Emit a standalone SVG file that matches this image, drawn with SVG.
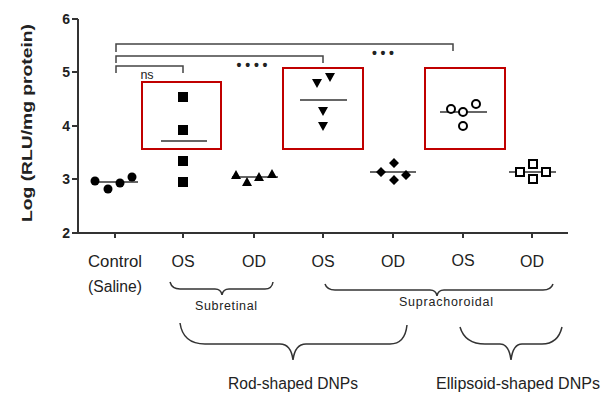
<svg xmlns="http://www.w3.org/2000/svg" width="616" height="394" viewBox="0 0 616 394">
<style>
.ax{stroke:#333;stroke-width:2;fill:none}
.ln{stroke:#444;stroke-width:1.5;fill:none}
.mean{stroke:#333;stroke-width:1.5}
.box{stroke:#c00000;stroke-width:2;fill:none}
.tl{font-family:"Liberation Sans",Arial,sans-serif;font-weight:bold;font-size:14px;fill:#222}
.xl{font-family:"Liberation Sans",Arial,sans-serif;font-size:16px;fill:#222}
.sm{font-family:"Liberation Sans",Arial,sans-serif;font-size:12.5px;fill:#222}
.br{stroke:#333;stroke-width:1.5;fill:none}
.f{fill:#000}
.o{fill:#fff;stroke:#000;stroke-width:2}
</style>
<rect width="616" height="394" fill="#fff"/>
<g id="axes">
<path class="ax" d="M78,19 V233 H568"/>
<path class="ax" d="M72,19 H78 M72,72 H78 M72,126 H78 M72,179 H78 M72,233 H78"/>
<path class="ax" d="M115,233 V238 M183,233 V238 M254,233 V238 M323,233 V238 M393,233 V238 M463,233 V238 M532,233 V238"/>
<text class="tl" x="70" y="24" text-anchor="end">6</text>
<text class="tl" x="70" y="77" text-anchor="end">5</text>
<text class="tl" x="70" y="131" text-anchor="end">4</text>
<text class="tl" x="70" y="184" text-anchor="end">3</text>
<text class="tl" x="70" y="238" text-anchor="end">2</text>
<text class="tl" transform="translate(32,123) rotate(-90)" text-anchor="middle" font-size="16" textLength="198" lengthAdjust="spacingAndGlyphs">Log (RLU/mg protein)</text>
</g>
<g id="xlabels">
<text class="xl" x="115" y="267" text-anchor="middle" textLength="54" lengthAdjust="spacingAndGlyphs">Control</text>
<text class="xl" x="115" y="292" text-anchor="middle" textLength="54" lengthAdjust="spacingAndGlyphs">(Saline)</text>
<text class="xl" x="183" y="267" text-anchor="middle">OS</text>
<text class="xl" x="254" y="267" text-anchor="middle">OD</text>
<text class="xl" x="323" y="267" text-anchor="middle">OS</text>
<text class="xl" x="393" y="267" text-anchor="middle">OD</text>
<text class="xl" x="463" y="266" text-anchor="middle">OS</text>
<text class="xl" x="532" y="267" text-anchor="middle">OD</text>
</g>
<g id="connectors">
<path class="ln" d="M116,52 V44 H453 V51"/>
<path class="ln" d="M116,63 V56 H323 V63"/>
<path class="ln" d="M116,73 V66 H183 V73"/>
</g>
<g id="sig">
<text class="sm" x="147" y="79" text-anchor="middle" font-size="12">ns</text>
<text class="tl" x="252" y="70" text-anchor="middle" font-size="17" textLength="31" lengthAdjust="spacing">••••</text>
<text class="tl" x="383" y="58" text-anchor="middle" font-size="17" textLength="22" lengthAdjust="spacing">•••</text>
</g>
<g id="boxes">
<rect class="box" x="142" y="82" width="79" height="67"/>
<rect class="box" x="283" y="68" width="80" height="81"/>
<rect class="box" x="425" y="68" width="80" height="81"/>
</g>
<g id="control">
<line class="mean" x1="91" y1="182" x2="138" y2="182"/>
<circle class="f" cx="95" cy="181" r="4.5"/>
<circle class="f" cx="108" cy="189" r="4.5"/>
<circle class="f" cx="120" cy="183" r="4.5"/>
<circle class="f" cx="132" cy="177" r="4.5"/>
</g>
<g id="rod-os">
<line class="mean" x1="161" y1="141" x2="207" y2="141"/>
<rect class="f" x="178" y="92" width="10" height="10"/>
<rect class="f" x="178" y="125" width="10" height="10"/>
<rect class="f" x="178" y="156" width="10" height="10"/>
<rect class="f" x="178" y="177" width="10" height="10"/>
</g>
<g id="rod-od">
<line class="mean" x1="232" y1="177" x2="278" y2="177"/>
<path class="f" d="M236,170 l5,9 h-10z M247,177 l5,9 h-10z M259,172 l5,9 h-10z M272,169 l5,9 h-10z"/>
</g>
<g id="supra-os">
<line class="mean" x1="300" y1="100" x2="347" y2="100"/>
<path class="f" d="M312,79 h10 l-5,9z M325,73 h10 l-5,9z M318,107 h10 l-5,9z M318,122 h10 l-5,9z"/>
</g>
<g id="supra-od">
<line class="mean" x1="370" y1="172" x2="416" y2="172"/>
<path class="f" d="M381,167 l5,5 -5,5 -5,-5z M394,158 l5,5 -5,5 -5,-5z M406,170 l5,5 -5,5 -5,-5z M394,175 l5,5 -5,5 -5,-5z"/>
</g>
<g id="ellip-os">
<line class="mean" x1="440" y1="112" x2="487" y2="112"/>
<circle class="o" cx="451" cy="109" r="4"/>
<circle class="o" cx="463" cy="112" r="4"/>
<circle class="o" cx="476" cy="104" r="4"/>
<circle class="o" cx="463" cy="126" r="4"/>
</g>
<g id="ellip-od">
<line class="mean" x1="509" y1="172" x2="556" y2="172"/>
<rect class="o" x="516" y="168" width="8" height="8"/>
<rect class="o" x="529" y="160" width="8" height="8"/>
<rect class="o" x="542" y="168" width="8" height="8"/>
<rect class="o" x="529" y="175" width="8" height="8"/>
</g>
<g id="braces">
<path class="br" d="M170,282 Q172,289 180,289 H215 Q221,289 222,295 Q223,289 229,289 H265 Q272,289 273,282"/>
<path class="br" d="M325,284 Q327,290 335,290 H430 Q436,290 437,296 Q438,290 444,290 H543 Q551,290 553,284"/>
<path class="br" d="M180,323 Q183,344 205,344 H280 Q291,344 293,360 Q295,344 306,344 H390 Q405,344 407,325"/>
<path class="br" d="M460,327 Q465,344 485,344 H500 Q509,344 511,360 Q513,344 522,344 H542 Q558,344 562,327"/>
<text class="sm" x="226" y="310" text-anchor="middle" textLength="62" lengthAdjust="spacing">Subretinal</text>
<text class="sm" x="446" y="306" text-anchor="middle" textLength="94" lengthAdjust="spacing">Suprachoroidal</text>
<text class="xl" x="293" y="389" text-anchor="middle" textLength="130" lengthAdjust="spacingAndGlyphs">Rod-shaped DNPs</text>
<text class="xl" x="518" y="389" text-anchor="middle" textLength="164" lengthAdjust="spacingAndGlyphs">Ellipsoid-shaped DNPs</text>
</g>
</svg>
